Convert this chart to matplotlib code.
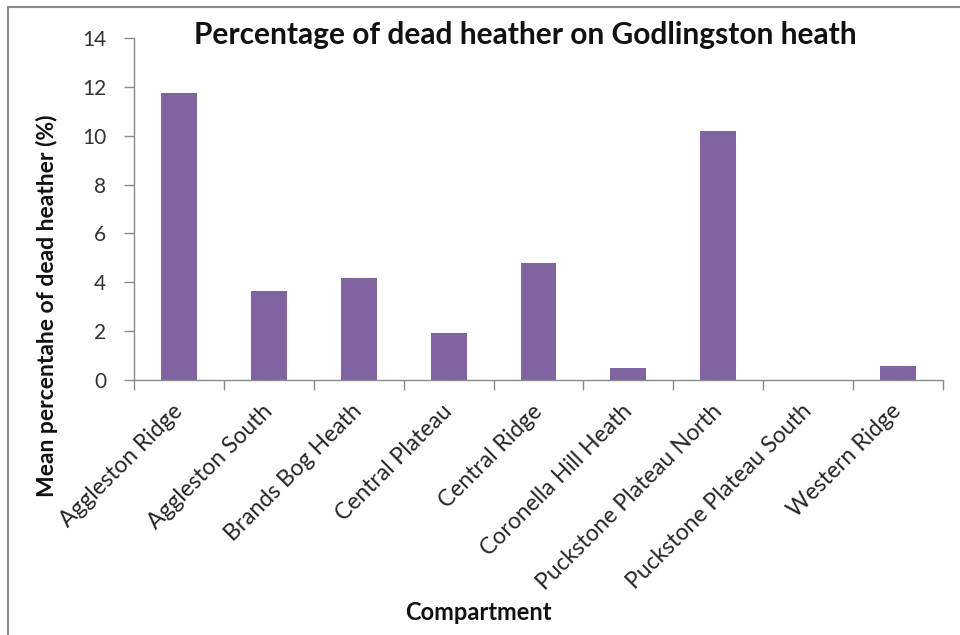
import matplotlib.pyplot as plt
import matplotlib.patches as patches
import numpy as np

# Data
compartments = ['Aggleston Ridge', 'Aggleston South', 'Brands Bog Heath',
                'Central Plateau', 'Central Ridge', 'Coronella Hill Heath',
                'Puckstone Plateau North', 'Puckstone Plateau South', 'Western Ridge']
dead_pct = [11.73, 3.65, 4.18, 1.91, 4.77, 0.48, 10.2, 0.0, 0.57]
y_ticks = [0, 2, 4, 6, 8, 10, 12, 14]

plt.rcParams['font.family'] = ['Lato', 'DejaVu Sans']

W, H = 960, 635
fig = plt.figure(figsize=(W / 100, H / 100), dpi=100)

# chart border (only left and top visible in the reference)
fig.add_artist(patches.Rectangle((8 / W, -0.1), 1.2, (H - 7) / H + 0.1,
                                 transform=fig.transFigure, fill=False,
                                 edgecolor='#8a8a8a', linewidth=1.5))

ax = fig.add_axes([134 / W, (H - 380) / H, (943 - 134) / W, (380 - 38) / H])

x = np.arange(len(compartments))
ax.bar(x, dead_pct, width=0.4, color='#8064A2')

ax.set_xlim(-0.5, len(compartments) - 0.5)
ax.set_ylim(0, 14)
ax.set_yticks(y_ticks)
ax.set_xticks(x)
ax.set_xticklabels(compartments, rotation=45, ha='right', va='center',
                   rotation_mode='anchor', fontsize=16.5, color='#262626')
ax.set_xticks(np.arange(-0.5, len(compartments)), minor=True)
ax.tick_params(axis='x', which='major', length=0, pad=20)
ax.tick_params(axis='x', which='minor', length=7, width=1, color='#8a8a8a', direction='out')
ax.tick_params(axis='y', length=7, width=1, color='#8a8a8a', labelsize=15,
               labelcolor='#333333', pad=13)

for s in ['top', 'right']:
    ax.spines[s].set_visible(False)
for s in ['left', 'bottom']:
    ax.spines[s].set_color('#8a8a8a')
    ax.spines[s].set_linewidth(1)

fig.text(525 / W, 1 - 35 / H, 'Percentage of dead heather on Godlingston heath',
         ha='center', va='center', fontsize=21.5, fontweight='bold', color='#111111')
fig.text(47 / W, 1 - 306 / H, 'Mean percentahe of dead heather (%)',
         rotation=90, ha='center', va='center', fontsize=16.5, fontweight='bold', color='#111111')
fig.text(478 / W, 1 - 612 / H, 'Compartment',
         ha='center', va='center', fontsize=17, fontweight='bold', color='#111111')

fig.savefig('out.png', dpi=100)
